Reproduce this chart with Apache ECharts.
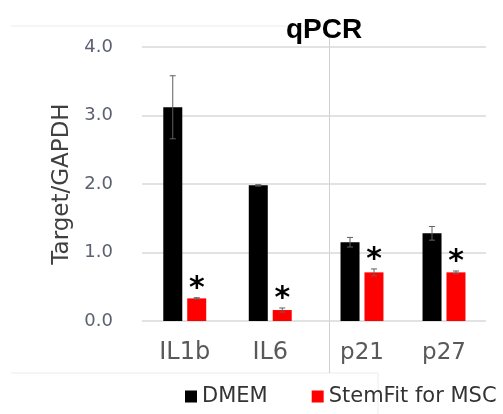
<!DOCTYPE html>
<html>
<head>
<meta charset="utf-8">
<script src="https://cdn.jsdelivr.net/npm/echarts@6/dist/echarts.min.js"></script>
<style>
  html, body { margin: 0; padding: 0; background: #fff; }
  #chart { width: 503px; height: 414px; }
</style>
</head>
<body>
<div id="chart"></div>
<script>
// data
const leftCats = ["IL1b", "IL6"];
const rightCats = ["p21", "p27"];
const dmemLeft = [3.12, 1.98];
const dmemLeftErr = [0.46, 0.01];
const stemLeft = [0.33, 0.16];
const stemLeftErr = [0.01, 0.03];
const dmemRight = [1.15, 1.28];
const dmemRightErr = [0.07, 0.1];
const stemRight = [0.71, 0.71];
const stemRightErr = [0.05, 0.02];
const yMin = 0;
const yMax = 4;
const yStep = 1;

const FONT = "DejaVu Sans";

// error bar (+ optional asterisk) drawn on top of a bar
function errorSeries(axis, vals, errs, offset, star) {
  return {
    type: "custom",
    xAxisIndex: axis,
    yAxisIndex: axis,
    z: 10,
    silent: true,
    data: vals.map((v, i) => [i, v, errs[i]]),
    renderItem: (params, api) => {
      const x = api.coord([api.value(0), 0])[0] + offset;
      const top = api.coord([api.value(0), api.value(1) + api.value(2)])[1];
      const bot = api.coord([api.value(0), api.value(1) - api.value(2)])[1];
      const st = { stroke: "#606060", lineWidth: 1 };
      const children = [
        { type: "line", shape: { x1: x, y1: top, x2: x, y2: bot }, style: st },
        { type: "line", shape: { x1: x - 3, y1: top, x2: x + 3, y2: top }, style: st },
        { type: "line", shape: { x1: x - 3, y1: bot, x2: x + 3, y2: bot }, style: st },
      ];
      if (star) {
        children.push({
          type: "text",
          x: x,
          y: top - 9,
          style: {
            text: "*",
            font: "bold 30px " + FONT,
            align: "center",
            verticalAlign: "middle",
            fill: "#000",
          },
        });
      }
      return { type: "group", children: children };
    },
  };
}

const hiddenY = (i) => ({
  type: "value", gridIndex: i, min: yMin, max: yMax, interval: yStep, show: false,
});

const barBase = { type: "bar", barWidth: 19, barGap: "26%" };

const chart = echarts.init(document.getElementById("chart"));
chart.setOption({
  animation: false,
  backgroundColor: "#fff",
  title: {
    text: "qPCR",
    left: 319,
    textAlign: "center",
    top: 11,
    textStyle: { fontFamily: "Liberation Sans", fontWeight: "bold", fontSize: 28, color: "#000" },
  },
  legend: {
    data: ["DMEM", "StemFit for MSC"],
    left: 180,
    top: 381,
    icon: "rect",
    itemWidth: 12,
    itemHeight: 12,
    itemGap: 44,
    textStyle: { fontFamily: FONT, fontSize: 21, color: "#333" },
  },
  grid: [
    { left: 142, right: 17, top: 47, bottom: 93 },
    { left: 142, width: 171, top: 47, bottom: 93 },
    { left: 321, width: 164, top: 47, bottom: 93 },
  ],
  xAxis: [
    { type: "category", gridIndex: 0, data: [""], show: false },
    {
      type: "category", gridIndex: 1, data: leftCats,
      axisLine: { show: false }, axisTick: { show: false },
      axisLabel: { fontFamily: FONT, fontSize: 24, color: "#595959", margin: 20 },
    },
    {
      type: "category", gridIndex: 2, data: rightCats,
      axisLine: { show: false }, axisTick: { show: false },
      axisLabel: { fontFamily: FONT, fontSize: 23, color: "#595959", margin: 21 },
    },
  ],
  yAxis: [
    {
      type: "value", gridIndex: 0, min: yMin, max: yMax, interval: yStep,
      name: "Target/GAPDH",
      nameLocation: "middle",
      nameGap: 68,
      nameTextStyle: { fontFamily: FONT, fontSize: 23, color: "#404040" },
      axisLine: { show: false }, axisTick: { show: false },
      axisLabel: {
        fontFamily: FONT, fontSize: 18, color: "#5b6170", margin: 29,
        formatter: (v) => v.toFixed(1),
      },
      splitLine: { lineStyle: { color: "#d9d9d9", width: 1.5 } },
    },
    hiddenY(1),
    hiddenY(2),
  ],
  graphic: [
    { type: "line", shape: { x1: 11, y1: 26, x2: 330, y2: 26 }, style: { stroke: "#ececec", lineWidth: 1 } },
    { type: "line", shape: { x1: 11, y1: 373, x2: 378, y2: 373 }, style: { stroke: "#ececec", lineWidth: 1 } },
    { type: "line", shape: { x1: 378, y1: 373, x2: 378, y2: 414 }, style: { stroke: "#ececec", lineWidth: 1 } },
    { type: "line", shape: { x1: 329.5, y1: 33, x2: 329.5, y2: 373 }, style: { stroke: "#d0d0d0", lineWidth: 1 } },
  ],
  series: [
    Object.assign({}, barBase, { name: "DMEM", xAxisIndex: 1, yAxisIndex: 1, data: dmemLeft, itemStyle: { color: "#000" } }),
    Object.assign({}, barBase, { name: "StemFit for MSC", xAxisIndex: 1, yAxisIndex: 1, data: stemLeft, itemStyle: { color: "#ff0000" } }),
    Object.assign({}, barBase, { name: "DMEM", xAxisIndex: 2, yAxisIndex: 2, data: dmemRight, itemStyle: { color: "#000" } }),
    Object.assign({}, barBase, { name: "StemFit for MSC", xAxisIndex: 2, yAxisIndex: 2, data: stemRight, itemStyle: { color: "#ff0000" } }),
    errorSeries(1, dmemLeft, dmemLeftErr, -12, false),
    errorSeries(1, stemLeft, stemLeftErr, 12, true),
    errorSeries(2, dmemRight, dmemRightErr, -12, false),
    errorSeries(2, stemRight, stemRightErr, 12, true),
  ],
});
</script>
</body>
</html>
